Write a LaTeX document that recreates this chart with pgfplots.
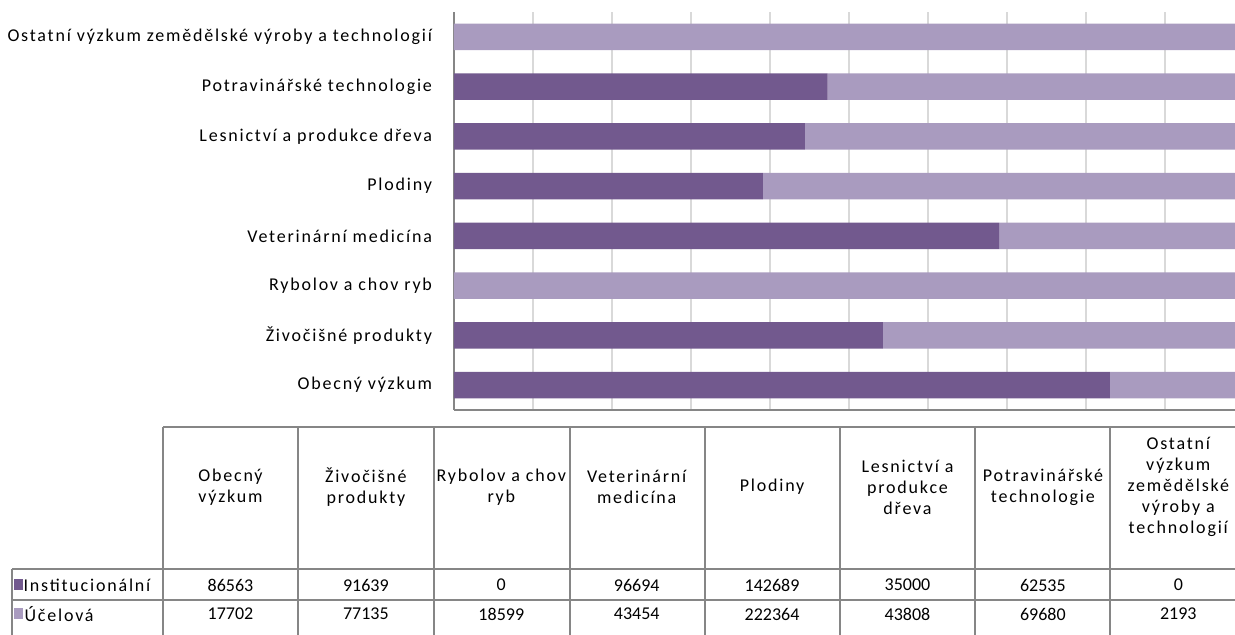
\documentclass[border=0pt]{standalone}
\usepackage{fontspec}
\setmainfont{Carlito}[LetterSpace=10]
\newfontfamily\numfont{Carlito}
\usepackage{pgfplots}
\usepackage{pgfplotstable}
\pgfplotsset{compat=1.18}

\definecolor{instc}{RGB}{114,89,142}
\definecolor{ucelc}{RGB}{169,155,191}
\definecolor{gridc}{RGB}{217,217,217}
\definecolor{linec}{RGB}{134,134,134}

% idx 0 = Obecny vyzkum (bottom bar, first table column)
\pgfplotstableread{
idx inst   ucel
0   86563  17702
1   91639  77135
2   0      18599
3   96694  43454
4   142689 222364
5   35000  43808
6   62535  69680
7   0      2193
}\data
\pgfplotstablecreatecol[create col/expr={100*\thisrow{inst}/(\thisrow{inst}+\thisrow{ucel})}]{pinst}\data
\pgfplotstablecreatecol[create col/expr={100*\thisrow{ucel}/(\thisrow{inst}+\thisrow{ucel})}]{pucel}\data

\begin{document}
\begin{tikzpicture}[x=0.75pt,y=0.75pt,font=\fontsize{13.5}{16}\selectfont]
\useasboundingbox (0,0) rectangle (1235,635);

\begin{axis}[
    at={(340.5pt,168.75pt)}, anchor=south west, scale only axis,
    width=592.5pt, height=298.5pt,
    xbar stacked, bar width=0.53,
    xmin=0, xmax=100, ymin=-0.5, ymax=7.5,
    axis x line*=bottom, axis y line*=left,
    axis line style={linec, line width=1pt},
    xtick={0,10,...,100}, xticklabels={},
    xmajorgrids, grid style={gridc, line width=0.9pt},
    major tick length=0pt,
    ytick={0,...,7},
    yticklabels={Obecný výzkum, Živočišné produkty, Rybolov a chov ryb,
      Veterinární medicína, Plodiny, Lesnictví a produkce dřeva,
      Potravinářské technologie, Ostatní výzkum zemědělské výroby a technologií},
    yticklabel style={xshift=-13pt, font=\fontsize{13.5}{16}\selectfont},
]
\addplot[fill=instc, draw=none] table[x=pinst, y=idx] {\data};
\addplot[fill=ucelc, draw=none] table[x=pucel, y=idx] {\data};
\end{axis}

% data table below the chart
\begin{scope}[linec, line width=1pt]
\draw (163,208) -- (1240,208);
\draw (12,66) -- (1240,66);
\draw (12,35) -- (1240,35);
\draw (12,66) -- (12,-10);
\foreach \x in {163,298,434,570,705,840,975,1110}
  \draw (\x,208) -- (\x,-10);
\end{scope}

\foreach \i/\t in {0/{Obecný\\výzkum}, 1/{Živočišné\\produkty}, 2/{Rybolov a chov\\ryb},
  3/{Veterinární\\medicína}, 4/{Plodiny}, 5/{Lesnictví a\\produkce\\dřeva},
  6/{Potravinářské\\technologie}, 7/{Ostatní\\výzkum\\zemědělské\\výroby a\\technologií}}
  \node[align=center, font=\fontsize{13.5}{15.75}\selectfont] at (230.5+135.4*\i,148) {\t};

\foreach \i in {0,...,7}{
  \pgfplotstablegetelem{\i}{inst}\of\data
  \node[font=\numfont\fontsize{13.5}{16}\selectfont] at (230.5+135.4*\i,50) {\pgfplotsretval};
  \pgfplotstablegetelem{\i}{ucel}\of\data
  \node[font=\numfont\fontsize{13.5}{16}\selectfont] at (230.5+135.4*\i,21) {\pgfplotsretval};
}

\fill[instc] (14,45) rectangle (23,56);
\node[anchor=west, inner sep=1pt] at (22,50) {Institucionální};
\fill[ucelc] (14,16) rectangle (23,27);
\node[anchor=west, inner sep=1pt] at (23,21) {Účelová};
\end{tikzpicture}
\end{document}
